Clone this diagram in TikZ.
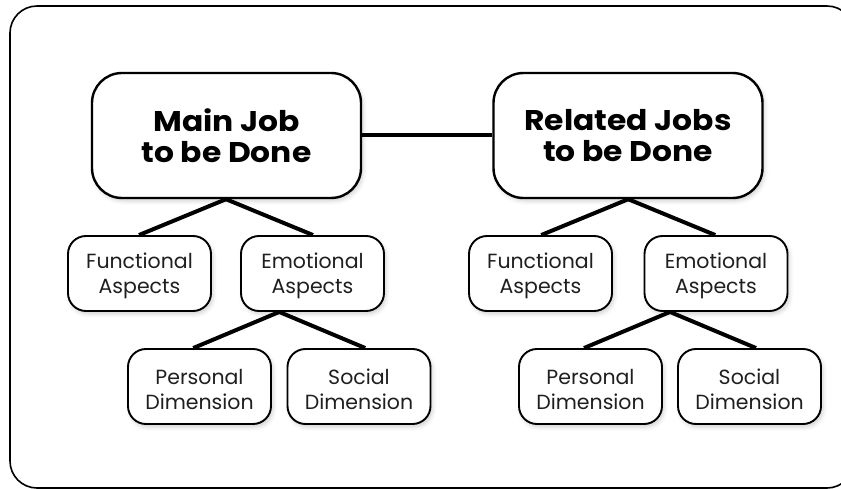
\documentclass[tikz,border=0pt]{standalone}
\usepackage{fontspec}
\setmainfont{Poppins}
\newfontfamily\headfont{Poppins}[FakeStretch=1.1]
\usetikzlibrary{calc,shadows.blur}
\begin{document}
\begin{tikzpicture}[x=1pt,y=-1pt,
  box/.style={draw=black, fill=white, align=center, inner sep=0pt,
    blur shadow={shadow xshift=2pt, shadow yshift=-3pt, shadow opacity=18, shadow blur radius=4pt}},
  bigbox/.style={box, line width=2.4pt, rounded corners=30pt,
    minimum width=269pt, minimum height=125pt,
    font=\headfont\fontsize{28.5}{31}\selectfont\bfseries},
  smallbox/.style={box, line width=1.9pt, rounded corners=18pt,
    minimum width=143pt, minimum height=75pt, text height=46pt,
    font=\fontsize{20.5}{25}\selectfont, text=black!88},
  link/.style={line width=4pt, black},
  frame/.style={line width=1.6pt, rounded corners=27pt}
]
\path[use as bounding box] (0,0) rectangle (841,489);
\begin{scope}
  \clip (0,0) rectangle (841,489);
  \draw[frame] (10,6) rectangle (854,488);
\end{scope}

% the two job boxes
\node[bigbox] (main) at (226.5,135.5) {Main Job\\to be Done};
\node[bigbox] (rel) at (628,135.5) {Related Jobs\\to be Done};

% left branch
\node[smallbox] (funL) at (139.5,273.5) {Functional\\Aspects};
\node[smallbox] (emoL) at (312.5,273.5) {Emotional\\Aspects};
\node[smallbox] (perL) at (199.5,386.5) {Personal\\Dimension};
\node[smallbox] (socL) at (359,386.5) {Social\\Dimension};

% right branch
\node[smallbox] (funR) at (540.5,273.5) {Functional\\Aspects};
\node[smallbox] (emoR) at (716,273.5) {Emotional\\Aspects};
\node[smallbox] (perR) at (590.5,386.5) {Personal\\Dimension};
\node[smallbox] (socR) at (749.5,386.5) {Social\\Dimension};

% connectors
\draw[link] (main.east) -- (rel.west);

% branch points: midway between the two children, on the parent's lower edge
\coordinate (mM) at ($(funL.north)!0.5!(emoL.north)$);
\coordinate (apM) at (mM |- main.south);
\coordinate (mR) at ($(funR.north)!0.5!(emoR.north)$);
\coordinate (apR) at (mR |- rel.south);
\coordinate (mEL) at ($(perL.north)!0.5!(socL.north)$);
\coordinate (apEL) at (mEL |- emoL.south);
\coordinate (mER) at ($(perR.north)!0.5!(socR.north)$);
\coordinate (apER) at (mER |- emoR.south);

\draw[link] (apM) -- ($(mM)+(-87,0)$);
\draw[link] (apM) -- ($(mM)+(87,0)$);
\draw[link] (apR) -- ($(mR)+(-87,0)$);
\draw[link] (apR) -- ($(mR)+(87,0)$);
\draw[link] (apEL) -- ($(mEL)+(-86,0)$);
\draw[link] (apEL) -- ($(mEL)+(86,0)$);
\draw[link] (apER) -- ($(mER)+(-86,0)$);
\draw[link] (apER) -- ($(mER)+(86,0)$);
\end{tikzpicture}
\end{document}
